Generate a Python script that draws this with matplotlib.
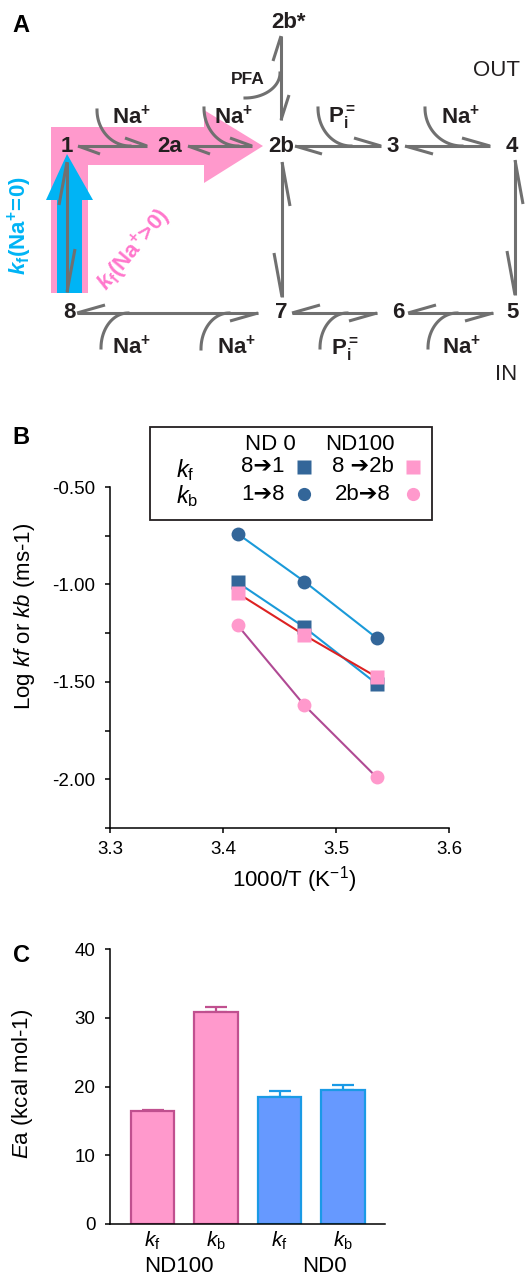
import matplotlib
matplotlib.use("Agg")
import matplotlib.pyplot as plt
import numpy as np
from matplotlib.patches import Polygon, Rectangle

plt.rcParams['font.family'] = ['Liberation Sans', 'DejaVu Sans']
plt.rcParams['mathtext.fontset'] = 'custom'
plt.rcParams['mathtext.rm'] = 'Liberation Sans'
plt.rcParams['mathtext.it'] = 'Liberation Sans:italic'
plt.rcParams['mathtext.bf'] = 'Liberation Sans:bold'
plt.rcParams['mathtext.bfit'] = 'Liberation Sans:bold:italic'
plt.rcParams['axes.unicode_minus'] = False

# ---- data: panel B (Arrhenius plot) ----
inv_T = [3.413, 3.472, 3.536]          # 1000/T (K-1)
nd0_kf = [-0.99, -1.22, -1.51]          # 8->1
nd0_kb = [-0.74, -0.985, -1.275]        # 1->8
nd100_kf = [-1.045, -1.26, -1.475]      # 8->2b
nd100_kb = [-1.21, -1.62, -1.99]        # 2b->8

# ---- data: panel C (activation energies) ----
bar_labels = [r'$\it{k}_\mathrm{f}$', r'$\it{k}_\mathrm{b}$', r'$\it{k}_\mathrm{f}$', r'$\it{k}_\mathrm{b}$']
bar_groups = ['ND100', 'ND100', 'ND0', 'ND0']
ea_vals = [16.5, 30.8, 18.5, 19.5]
ea_err = [0.15, 0.7, 0.85, 0.75]

GRAY = '#707070'
PINK = '#ff99cc'
DARK = '#336699'

fig = plt.figure(figsize=(5.25, 12.79), dpi=100)

# ================= panel B =================
axb = fig.add_axes([110 / 525, 1 - 828 / 1279, 339 / 525, 341 / 1279])
axb.patch.set_visible(False)
axb.plot(inv_T, nd0_kb, color='#1a9ad9', lw=1.5, zorder=2)
axb.plot(inv_T, nd0_kf, color='#1a9ad9', lw=1.5, zorder=2)
axb.plot(inv_T, nd100_kf, color='#dd2222', lw=1.5, zorder=2)
axb.plot(inv_T, nd100_kb, color='#b04a94', lw=1.5, zorder=2)
axb.plot(inv_T, nd0_kb, 'o', color=DARK, ms=10, mec='none', zorder=3)
axb.plot(inv_T, nd0_kf, 's', color=DARK, ms=10, mec='none', zorder=3)
axb.plot(inv_T, nd100_kf, 's', color=PINK, ms=10, mec='none', zorder=4)
axb.plot(inv_T, nd100_kb, 'o', color=PINK, ms=10, mec='none', zorder=4)
axb.set_xlim(3.3, 3.6)
axb.set_ylim(-2.25, -0.5)
axb.set_xticks([3.3, 3.4, 3.5, 3.6])
axb.set_xticklabels(['3.3', '3.4', '3.5', '3.6'])
axb.set_yticks([-0.5, -1.0, -1.5, -2.0])
axb.set_yticklabels(['-0.50', '-1.00', '-1.50', '-2.00'])
axb.set_yticks([-0.75, -1.25, -1.75, -2.25], minor=True)
for s in ['top', 'right']:
    axb.spines[s].set_visible(False)
for s in ['left', 'bottom']:
    axb.spines[s].set_linewidth(1.1)
axb.tick_params(which='both', direction='out', length=3.6, width=1.1, labelsize=13.5)
axb.tick_params(axis='y', pad=7)
axb.tick_params(axis='x', pad=6)

# ================= panel C =================
axc = fig.add_axes([110 / 525, 1 - 1224 / 1279, 275 / 525, 275 / 1279])
axc.patch.set_visible(False)
xpos = np.arange(len(ea_vals))
fills = [PINK if g == 'ND100' else '#6699ff' for g in bar_groups]
edges = ['#c0508f' if g == 'ND100' else '#1a9ae6' for g in bar_groups]
axc.bar(xpos, ea_vals, width=0.68, color=fills, edgecolor=edges, linewidth=1.6, zorder=2)
for i in range(len(ea_vals)):
    axc.errorbar(xpos[i], ea_vals[i], yerr=[[0], [ea_err[i]]], color=edges[i],
                 capsize=8, elinewidth=1.6, capthick=1.6, zorder=1)
axc.set_xlim(-0.67, 3.66)
axc.set_ylim(0, 40)
axc.set_yticks([0, 10, 20, 30, 40])
axc.set_xticks(xpos)
axc.set_xticklabels(bar_labels)
for s in ['top', 'right']:
    axc.spines[s].set_visible(False)
for s in ['left', 'bottom']:
    axc.spines[s].set_linewidth(1.1)
axc.tick_params(axis='y', direction='out', length=3.6, width=1.1, labelsize=13.5, pad=7)
axc.tick_params(axis='x', length=0, labelsize=15, pad=4)

# ================= overlay in pixel coords (panel A, labels, legend) =================
ax0 = fig.add_axes([0, 0, 1, 1], zorder=10)
ax0.set_xlim(0, 525)
ax0.set_ylim(1279, 0)
ax0.axis('off')

# highlight arrows
pink_path = [(51, 293), (51, 127), (204, 127), (204, 110), (263, 146),
             (204, 183), (204, 165), (88, 165), (88, 293)]
blue_path = [(57, 293), (57, 200), (46, 200), (67, 154), (93, 200), (82, 200), (82, 293)]
ax0.add_patch(Polygon(pink_path, closed=True, color=PINK, lw=0, zorder=1))
ax0.add_patch(Polygon(blue_path, closed=True, color='#00b4f5', lw=0, zorder=2))

# reversible steps: x0, y0, x1, y1, barb length, side
steps = [
    (78, 146, 147, 146, 22, 1), (188, 146, 252, 146, 22, 1),
    (295, 146, 381, 146, 27, 1), (405, 146, 490, 146, 28, 1),
    (77, 313, 258, 313, 28, -1), (292, 313, 377, 313, 28, -1),
    (408, 313, 493, 313, 28, -1),
    (281, 120, 281, 36, 25, 1), (282, 162, 282, 297, 44, -1),
    (515, 160, 515, 295, 44, -1), (67, 292, 67, 162, 43, 1),
]
h = 8
for x0, y0, x1, y1, L, s in steps:
    dx, dy = x1 - x0, y1 - y0
    n = np.hypot(dx, dy)
    dx, dy = dx / n, dy / n
    nx, ny = dy, -dx
    kw = dict(color=GRAY, lw=2.2, solid_capstyle='butt', zorder=3)
    ax0.plot([x0, x1], [y0, y1], **kw)
    ax0.plot([x1, x1 - L * dx + s * h * nx], [y1, y1 - L * dy + s * h * ny], **kw)
    ax0.plot([x0, x0 + L * dx - s * h * nx], [y0, y0 + L * dy - s * h * ny], **kw)

# ligand binding arcs: cx, cy, rx, ry, t0, t1
arcs = [
    (130, 110, 33, 36, 180, 90), (238, 108, 34, 38, 180, 90),
    (351, 108, 33, 38, 180, 90), (462, 108, 37, 38, 180, 90),
    (128, 348, 27, 35, 180, 270), (229, 349, 28, 36, 180, 270),
    (347, 348, 27, 35, 180, 270), (457, 348, 29, 35, 180, 270),
    (245, 73, 35, 25, 90, 0),
]
for cx, cy, rx, ry, t0, t1 in arcs:
    t = np.radians(np.linspace(t0, t1, 40))
    ax0.plot(cx + rx * np.cos(t), cy + ry * np.sin(t), color=GRAY, lw=2.2, zorder=3)

nodes = {'1': (67, 146), '2a': (170, 146), '2b': (281, 146), '3': (393, 146),
         '4': (512, 146), '8': (69, 313), '7': (281, 313), '6': (398, 313),
         '5': (513, 313), '2b*': (289, 22)}
for lbl, (x, y) in nodes.items():
    ax0.text(x, y, lbl, fontsize=16, fontweight='bold', ha='center', va='center',
             color='#231f20', zorder=5)

na = r'$\mathbf{Na}^{\mathbf{+}}$'
pi = r'$\mathbf{P}_{\mathbf{i}}^{\mathbf{=}}$'
ligands = [(na, 132, 117), (na, 234, 117), (pi, 342, 117), (na, 461, 117),
           (na, 132, 347), (na, 237, 347), (pi, 345, 349), (na, 462, 347)]
for txt, x, y in ligands:
    ax0.text(x, y, txt, fontsize=16, ha='center', va='center', color='#231f20', zorder=5)
ax0.text(248, 79, 'PFA', fontsize=12.5, fontweight='bold', ha='center', va='center', color='#231f20')
ax0.text(497, 70, 'OUT', fontsize=16, ha='center', va='center', color='#231f20')
ax0.text(506, 374, 'IN', fontsize=16, ha='center', va='center', color='#231f20')

ax0.text(20, 226, r'$\mathbfit{k}_{\mathbf{f}}\mathbf{(Na^{+}\!=\!0)}$', fontsize=16, color='#00b4f5',
         rotation=90, ha='center', va='center', rotation_mode='anchor')
ax0.text(134, 250, r'$\mathbfit{k}_{\mathbf{f}}\mathbf{(Na^{+}\!>\!0)}$', fontsize=16, color='#ff77cc',
         rotation=50, ha='center', va='center', rotation_mode='anchor')

# panel letters
for lbl, y in [('A', 25), ('B', 438), ('C', 955)]:
    ax0.text(21, y, lbl, fontsize=17, fontweight='bold', ha='center', va='center')

# axis labels
ax0.text(25, 616, r'Log $\it{kf}$ or $\it{kb}$ (ms-1)', fontsize=16, rotation=90,
         ha='center', va='center')
ax0.text(294, 880, r'1000/T (K$^{-1}$)', fontsize=16, ha='center', va='center')
ax0.text(23, 1084, r'$\it{E}$a (kcal mol-1)', fontsize=16, rotation=90, ha='center', va='center')
ax0.text(179, 1267, 'ND100', fontsize=16, ha='center', va='center')
ax0.text(324, 1267, 'ND0', fontsize=16, ha='center', va='center')

# legend of panel B
ax0.add_patch(Rectangle((150, 427), 282, 93, fill=False, ec='#231f20', lw=1.3))
ax0.text(270, 445, 'ND 0', fontsize=16, ha='center', va='center')
ax0.text(360, 445, 'ND100', fontsize=16, ha='center', va='center')
ax0.text(176, 470, r'$\it{k}_\mathrm{f}$', fontsize=17, ha='left', va='center')
ax0.text(176, 496, r'$\it{k}_\mathrm{b}$', fontsize=17, ha='left', va='center')
ax0.text(263, 467, '8\u27941', fontsize=16, ha='center', va='center')
ax0.text(363, 467, '8 \u27942b', fontsize=16, ha='center', va='center')
ax0.text(263, 494, '1\u27948', fontsize=16, ha='center', va='center')
ax0.text(363, 494, '2b\u27948', fontsize=16, ha='center', va='center')
ax0.plot([304], [467], 's', color=DARK, ms=9.5, mec='none')
ax0.plot([413], [467], 's', color=PINK, ms=9.5, mec='none')
ax0.plot([304], [494], 'o', color=DARK, ms=9.5, mec='none')
ax0.plot([413], [494], 'o', color=PINK, ms=9.5, mec='none')

fig.savefig('out.png', dpi=100)
